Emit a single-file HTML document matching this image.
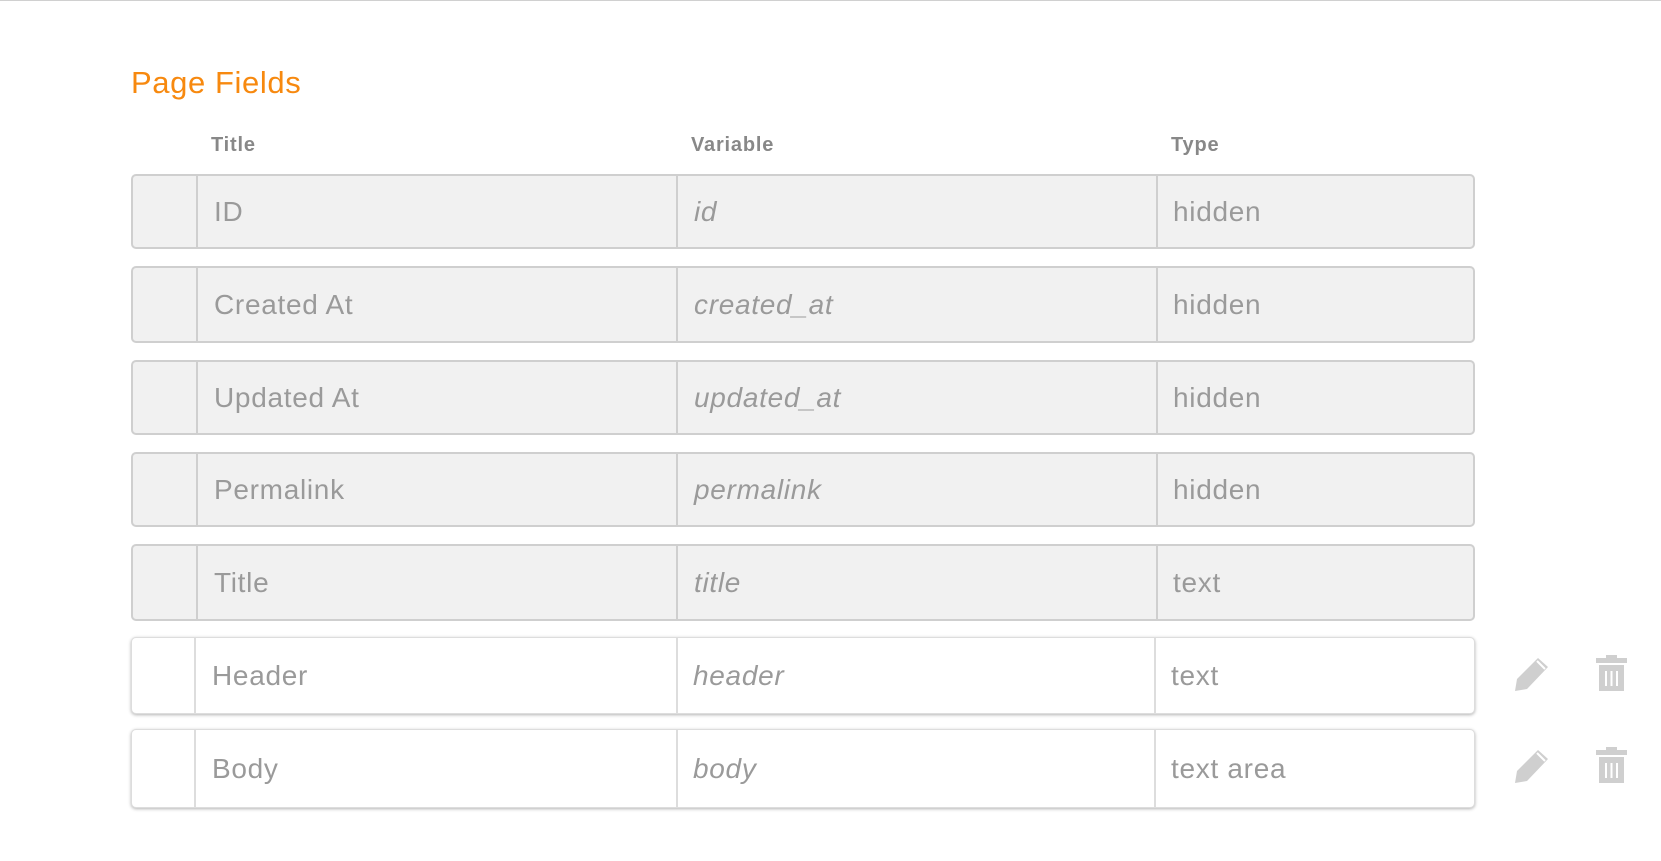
<!DOCTYPE html>
<html><head><meta charset="utf-8"><style>
*{margin:0;padding:0;box-sizing:border-box}
body{width:1661px;height:860px;background:#fff;position:relative;overflow:hidden;font-family:"Liberation Sans",sans-serif;border-top:1px solid #d0d0d0}
.t{position:absolute;left:131px;top:64px;font-size:31px;color:#f7890f;letter-spacing:0.6px}
.h{position:absolute;top:133px;font-size:20px;color:#888;font-weight:bold;letter-spacing:0.8px}
.row{position:absolute;left:131px;width:1344px;border:2px solid #cfcfcf;border-radius:5px;background:#f1f1f1}
.row.w{background:#fff;border:1px solid #ddd;box-shadow:0 1px 3px rgba(0,0,0,.3)}
.c{position:absolute;top:0;bottom:0;border-left:2px solid #cfcfcf}
.row.w .c{border-left:2px solid #ddd}
.x{position:absolute;font-size:28px;color:#9a9a9a;top:50%;transform:translateY(-50%);white-space:nowrap;letter-spacing:0.7px}
.i{font-style:italic}
svg{position:absolute}
</style></head><body>
<div class="t">Page Fields</div>
<div class="h" style="left:211px">Title</div>
<div class="h" style="left:691px">Variable</div>
<div class="h" style="left:1171px">Type</div>

<div class="row" style="top:173px;height:75px"><div class="c" style="left:63px"></div><div class="c" style="left:543px"></div><div class="c" style="left:1023px"></div>
<span class="x" style="left:81px">ID</span><span class="x i" style="left:561px">id</span><span class="x" style="left:1040px">hidden</span></div>

<div class="row" style="top:265px;height:77px"><div class="c" style="left:63px"></div><div class="c" style="left:543px"></div><div class="c" style="left:1023px"></div>
<span class="x" style="left:81px">Created At</span><span class="x i" style="left:561px">created_at</span><span class="x" style="left:1040px">hidden</span></div>

<div class="row" style="top:359px;height:75px"><div class="c" style="left:63px"></div><div class="c" style="left:543px"></div><div class="c" style="left:1023px"></div>
<span class="x" style="left:81px">Updated At</span><span class="x i" style="left:561px">updated_at</span><span class="x" style="left:1040px">hidden</span></div>

<div class="row" style="top:451px;height:75px"><div class="c" style="left:63px"></div><div class="c" style="left:543px"></div><div class="c" style="left:1023px"></div>
<span class="x" style="left:81px">Permalink</span><span class="x i" style="left:561px">permalink</span><span class="x" style="left:1040px">hidden</span></div>

<div class="row" style="top:543px;height:77px"><div class="c" style="left:63px"></div><div class="c" style="left:543px"></div><div class="c" style="left:1023px"></div>
<span class="x" style="left:81px">Title</span><span class="x i" style="left:561px">title</span><span class="x" style="left:1040px">text</span></div>

<div class="row w" style="top:636px;height:77px"><div class="c" style="left:62px"></div><div class="c" style="left:544px"></div><div class="c" style="left:1022px"></div>
<span class="x" style="left:80px">Header</span><span class="x i" style="left:561px">header</span><span class="x" style="left:1039px">text</span></div>

<div class="row w" style="top:728px;height:79px"><div class="c" style="left:62px"></div><div class="c" style="left:544px"></div><div class="c" style="left:1022px"></div>
<span class="x" style="left:80px">Body</span><span class="x i" style="left:561px">body</span><span class="x" style="left:1039px">text area</span></div>

<svg width="1661" height="860" style="left:0;top:0">
<g fill="#cfcfcf">
<g>
<polygon points="1515,690 1517,678 1538,657 1548,666 1527,688"/>
<rect x="1596" y="657" width="31" height="5"/><rect x="1606" y="654" width="11" height="4"/>
<rect x="1599" y="664" width="25" height="26"/>
</g>
<g transform="translate(0,92)">
<polygon points="1515,690 1517,678 1538,657 1548,666 1527,688"/>
<rect x="1596" y="657" width="31" height="5"/><rect x="1606" y="654" width="11" height="4"/>
<rect x="1599" y="664" width="25" height="26"/>
</g>
</g>
<g stroke="#fff" stroke-width="2">
<line x1="1537" y1="660" x2="1545" y2="668"/><line x1="1537" y1="752" x2="1545" y2="760"/>
<line x1="1606" y1="670" x2="1606" y2="685"/><line x1="1611.5" y1="670" x2="1611.5" y2="685"/><line x1="1617" y1="670" x2="1617" y2="685"/>
<line x1="1606" y1="762" x2="1606" y2="777"/><line x1="1611.5" y1="762" x2="1611.5" y2="777"/><line x1="1617" y1="762" x2="1617" y2="777"/>
</g>
</svg>
</body></html>
